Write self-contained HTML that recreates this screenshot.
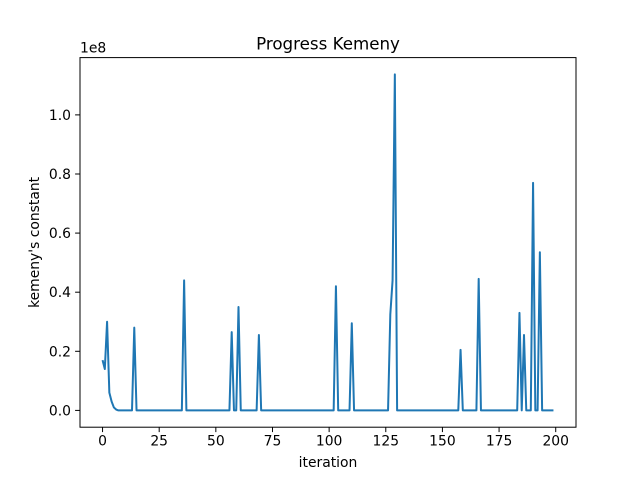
<!DOCTYPE html>
<html><head><meta charset="utf-8"><style>
body{margin:0;background:#fff}
svg{display:block;font-family:"DejaVu Sans","Liberation Sans",sans-serif}
</style></head><body>
<svg id="chart" width="640" height="480">
<rect width="640" height="480" fill="#fff"/>
</svg>
<script>
const iterations = Array.from({length:200},(_, i)=>i);
const spikes = {0:1.7e7,1:1.4e7,2:3.0e7,3:0.6e7,4:0.3e7,5:0.1e7,6:0.03e7,14:2.8e7,36:4.4e7,57:2.65e7,60:3.5e7,69:2.55e7,103:4.2e7,110:2.95e7,127:3.25e7,128:4.4e7,129:11.37e7,158:2.05e7,166:4.45e7,184:3.3e7,186:2.55e7,190:7.7e7,193:5.35e7};
const values = iterations.map(i => spikes[i] || 0);
const xTicks = [0,25,50,75,100,125,150,175,200];
const yTicks = [0,0.2e8,0.4e8,0.6e8,0.8e8,1.0e8];
const yTickLabels = ["0.0","0.2","0.4","0.6","0.8","1.0"];

const L=80,R=576,T=57.6,B=427.2;
const xmin=-9.95,xmax=208.95;
const ymax0=Math.max(...values),ymin0=Math.min(...values);
const ymin=ymin0-(ymax0-ymin0)*0.05,ymax=ymax0+(ymax0-ymin0)*0.05;
const sx=v=>L+(v-xmin)/(xmax-xmin)*(R-L);
const sy=v=>B-(v-ymin)/(ymax-ymin)*(B-T);
const svg=document.getElementById('chart');
const NS='http://www.w3.org/2000/svg';
function mk(t,a){const e=document.createElementNS(NS,t);for(const k in a)e.setAttribute(k,a[k]);svg.appendChild(e);return e;}

const line=mk('polyline',{points:iterations.map((x,i)=>sx(x)+','+sy(values[i])).join(' '),fill:'none',stroke:'#1f77b4','stroke-width':2,'stroke-linejoin':'round'});



const frame=mk('rect',{x:L,y:T,width:R-L,height:B-T,fill:'none',stroke:'#000','stroke-width':1});



xTicks.forEach(v=>{
  const x=sx(v);
  const tk=mk('line',{x1:x,x2:x,y1:B,y2:B+4.9,stroke:'#000','stroke-width':1});
  
  
  const t=mk('text',{x:x,y:B+18.5,'font-size':13.9,'text-anchor':'middle'});
  t.textContent=v;
  
  
});
yTicks.forEach((v,i)=>{
  const y=sy(v);
  const tk=mk('line',{x1:L-4.9,x2:L,y1:y,y2:y,stroke:'#000','stroke-width':1});
  
  
  const t=mk('text',{x:L-9,y:y+5,'font-size':13.9,'text-anchor':'end'});
  t.textContent=yTickLabels[i];
  
  
});
const off=mk('text',{x:L,y:T-5,'font-size':13.9});
off.textContent='1e8';


const title=mk('text',{x:(L+R)/2,y:T-8,'font-size':16.7,'text-anchor':'middle'});
title.textContent='Progress Kemeny';


const xl=mk('text',{x:(L+R)/2,y:467,'font-size':13.9,'text-anchor':'middle'});
xl.textContent='iteration';


const yl=mk('text',{x:0,y:0,'font-size':13.9,'text-anchor':'middle',transform:'translate(39,'+((T+B)/2)+') rotate(-90)'});
yl.textContent="kemeny's constant";


</script>
</body></html>
